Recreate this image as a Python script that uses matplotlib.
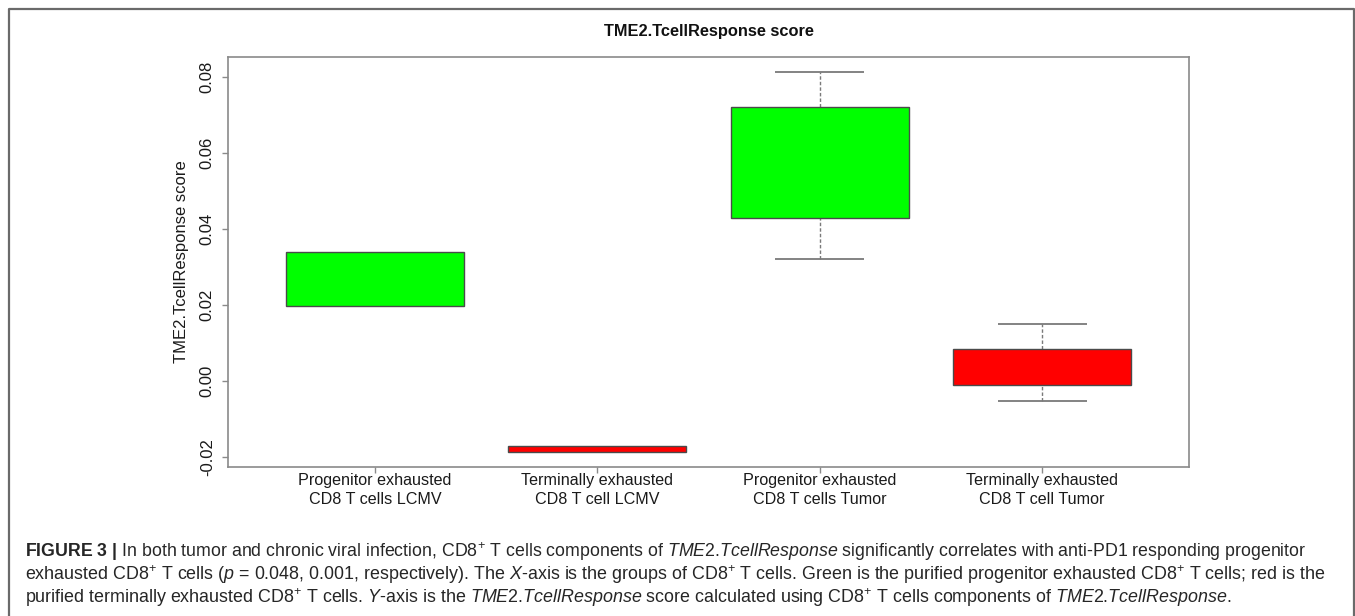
import numpy as np
import matplotlib
matplotlib.use("Agg")
import matplotlib.pyplot as plt
from matplotlib.lines import Line2D

plt.rcParams['font.family'] = ['Liberation Sans', 'DejaVu Sans']
plt.rcParams['mathtext.fontset'] = 'custom'
plt.rcParams['mathtext.rm'] = 'Liberation Sans'
plt.rcParams['mathtext.it'] = 'Liberation Sans:italic'
plt.rcParams['mathtext.bf'] = 'Liberation Sans:bold'

# ---- data -------------------------------------------------------------
groups = [
    "Progenitor exhausted\nCD8 T cells LCMV",
    "Terminally exhausted\nCD8 T cell LCMV",
    "Progenitor exhausted\nCD8 T cells Tumor",
    "Terminally exhausted\nCD8 T cell Tumor",
]
q1 = [0.0198, -0.0187, 0.0430, -0.0011]
q3 = [0.0340, -0.0171, 0.0721, 0.0083]
whisker_lo = [0.0198, -0.0187, 0.0320, -0.0053]
whisker_hi = [0.0340, -0.0171, 0.0813, 0.0149]
box_colors = ["#00ff00", "#ff0000", "#00ff00", "#ff0000"]
yticks = [-0.02, 0.00, 0.02, 0.04, 0.06, 0.08]

title = "TME2.TcellResponse score"
ylabel = "TME2.TcellResponse score"

caption_lines = [
    r"$\mathbf{FIGURE\ 3\ |}$ In both tumor and chronic viral infection, CD8$^{+}$ T cells components of "
    r"$\mathit{TME}$2.$\mathit{TcellResponse}$ significantly correlates with anti-PD1 responding progenitor",
    r"exhausted CD8$^{+}$ T cells ($\mathit{p}$ = 0.048, 0.001, respectively). The $\mathit{X}$-axis is the groups "
    r"of CD8$^{+}$ T cells. Green is the purified progenitor exhausted CD8$^{+}$ T cells; red is the",
    r"purified terminally exhausted CD8$^{+}$ T cells. $\mathit{Y}$-axis is the "
    r"$\mathit{TME}$2.$\mathit{TcellResponse}$ score calculated using CD8$^{+}$ T cells components of "
    r"$\mathit{TME}$2.$\mathit{TcellResponse}$.",
]

# ---- figure -----------------------------------------------------------
W, H = 1355, 616
fig = plt.figure(figsize=(W / 100, H / 100), dpi=100)
fig.patch.set_facecolor("white")

ax = fig.add_axes([228 / W, 1 - 467 / H, (1189 - 228) / W, (467 - 57) / H])

pos = np.arange(1, len(groups) + 1)
ax.bar(pos, np.subtract(q3, q1), bottom=q1, width=0.8, color=box_colors,
       edgecolor="#4a4a4a", linewidth=1.0, zorder=3)

wcol = "#7a7a7a"
for x, lo, b1, b3, hi in zip(pos, whisker_lo, q1, q3, whisker_hi):
    if hi > b3:
        ax.vlines(x, b3, hi, colors=wcol, linestyles=(0, (2.5, 1.5)), lw=1.0, zorder=2)
        ax.hlines(hi, x - 0.2, x + 0.2, colors=wcol, lw=1.3, zorder=2)
    if lo < b1:
        ax.vlines(x, lo, b1, colors=wcol, linestyles=(0, (2.5, 1.5)), lw=1.0, zorder=2)
        ax.hlines(lo, x - 0.2, x + 0.2, colors=wcol, lw=1.3, zorder=2)

lo_all, hi_all = min(whisker_lo), max(whisker_hi)
span = hi_all - lo_all
ax.set_ylim(lo_all - 0.04 * span, hi_all + 0.04 * span)
ax.set_xlim(0.5 - 0.16, len(groups) + 0.5 + 0.16)

ax.set_yticks(yticks)
ax.set_yticklabels([f"{v:.2f}" for v in yticks], rotation=90, va="center")
ax.set_xticks(pos)
ax.set_xticklabels(groups, linespacing=1.35)

for s in ax.spines.values():
    s.set_color("#8a8a8a")
    s.set_linewidth(1.2)

ax.tick_params(axis="y", length=4.5, width=1.0, color="#8a8a8a", pad=5,
               labelsize=12, labelcolor="#1a1a1a")
ax.tick_params(axis="x", length=4, width=1.0, color="#8a8a8a", pad=0,
               labelsize=11.6, labelcolor="#1a1a1a")

ax.set_title(title, fontsize=11.8, fontweight="bold", pad=15, color="#111111")
ax.set_ylabel(ylabel, fontsize=12, labelpad=8, color="#1a1a1a")

# outer panel frame
fx0, fx1 = 9.3 / W, 1353.8 / W
fy = 1 - 8.7 / H
fig.add_artist(Line2D([fx0, fx0, fx1, fx1], [0, fy, fy, 0],
                      transform=fig.transFigure, color="#6a6a6a", lw=1.6))

# caption block, each line fitted to its printed width
renderer = fig.canvas.get_renderer()
baselines = [557, 580, 603]
targets = [1281, 1298, None]
base_fs = 13
texts = []
for line, yb in zip(caption_lines, baselines):
    t = fig.text(25 / W, 1 - yb / H, line, fontsize=base_fs, va="baseline",
                 ha="left", color="#262626")
    texts.append(t)

sizes = []
for t, tgt in zip(texts, targets):
    w = t.get_window_extent(renderer).width
    sizes.append(base_fs * tgt / w if tgt else None)
texts[0].set_fontsize(sizes[0])
texts[1].set_fontsize(sizes[1])
texts[2].set_fontsize(sizes[1])

fig.savefig("out.png", dpi=100, facecolor="white")
